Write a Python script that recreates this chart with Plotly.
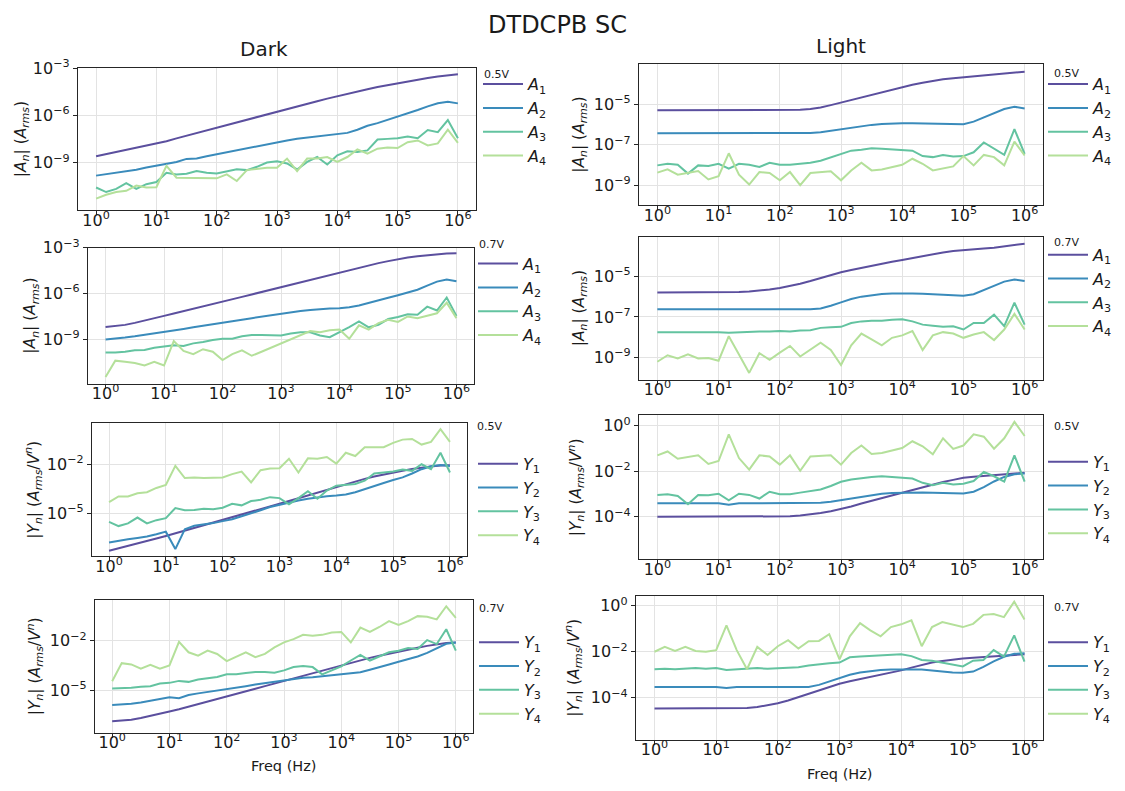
import plotly.graph_objects as go

FONT = "DejaVu Sans"
W, H = 1125, 791

# ---------------- data (values are log10 of the magnitude) ----------------
freq_hz = [1, 1.468, 2.154, 3.162, 4.642, 6.813, 10, 14.68, 21.54, 31.62, 46.42, 68.13,
           100, 146.8, 215.4, 316.2, 464.2, 681.3, 1000, 1468, 2154, 3162, 4642, 6813,
           1e4, 14678, 21544, 31623, 46416, 68129, 1e5, 146780, 215443, 316228, 464159, 681292, 1e6]

dark05_A1 = [-8.58,-8.45,-8.32,-8.19,-8.06,-7.93,-7.80,-7.63,-7.45,-7.28,-7.11,-6.94,-6.77,-6.60,-6.42,-6.25,-6.08,-5.90,-5.73,-5.57,-5.41,-5.25,-5.09,-4.93,-4.77,-4.62,-4.47,-4.33,-4.19,-4.07,-3.95,-3.83,-3.72,-3.62,-3.52,-3.43,-3.38]
dark05_A2 = [-9.81,-9.72,-9.63,-9.55,-9.43,-9.30,-9.17,-9.05,-8.95,-8.75,-8.72,-8.58,-8.45,-8.33,-8.20,-8.06,-7.93,-7.81,-7.70,-7.58,-7.47,-7.40,-7.32,-7.24,-7.20,-7.10,-6.90,-6.65,-6.48,-6.28,-6.08,-5.88,-5.65,-5.42,-5.22,-5.12,-5.23]
dark05_A3 = [-10.56,-10.85,-10.65,-10.29,-10.65,-10.35,-10.22,-9.63,-9.73,-9.69,-9.52,-9.63,-9.67,-9.55,-9.40,-9.46,-9.25,-8.98,-8.90,-9.04,-9.42,-8.94,-8.63,-9.10,-8.52,-8.27,-8.31,-8.21,-7.52,-7.48,-7.44,-7.33,-7.44,-6.92,-7.06,-6.29,-7.44]
dark05_A4 = [-11.27,-11.02,-10.85,-10.77,-10.44,-10.56,-10.54,-9.19,-9.94,-9.94,-9.98,-9.98,-9.98,-9.73,-10.15,-9.46,-9.40,-9.31,-9.31,-8.73,-9.52,-8.73,-8.73,-8.63,-8.94,-8.63,-8.15,-8.42,-8.10,-8.02,-8.06,-7.69,-7.58,-7.90,-7.77,-6.90,-7.73]

light05_A1 = [-5.28]*13 + [-5.27,-5.26,-5.22,-5.15,-5.03,-4.90,-4.77,-4.64,-4.51,-4.38,-4.25,-4.13,-4.02,-3.92,-3.83,-3.75,-3.69,-3.64,-3.60,-3.56,-3.52,-3.47,-3.41,-3.37]
light05_A2 = [-6.42]*15 + [-6.41,-6.37,-6.30,-6.22,-6.14,-6.07,-6.01,-5.97,-5.94,-5.93,-5.93,-5.94,-5.96,-5.99,-6.00,-5.98,-5.85,-5.65,-5.41,-5.22,-5.11,-5.20]
light05_A3 = [-8.02,-7.94,-7.99,-8.43,-8.02,-8.05,-7.94,-8.18,-7.94,-7.99,-8.10,-7.89,-7.99,-7.99,-7.94,-7.89,-7.79,-7.61,-7.45,-7.29,-7.24,-7.17,-7.20,-7.24,-7.25,-7.29,-7.56,-7.61,-7.50,-7.58,-7.56,-7.37,-6.88,-7.20,-7.50,-6.22,-7.45]
light05_A4 = [-8.38,-8.22,-8.48,-8.38,-8.30,-8.72,-8.56,-7.42,-8.48,-8.97,-8.35,-8.40,-8.76,-8.35,-9.00,-8.40,-8.35,-8.31,-8.76,-8.27,-7.89,-8.27,-8.22,-8.10,-7.99,-7.69,-7.94,-8.27,-8.18,-8.07,-7.56,-8.02,-7.50,-7.61,-8.02,-6.84,-7.53]

dark07_A1 = [-8.19,-8.13,-8.05,-7.92,-7.78,-7.62,-7.46,-7.31,-7.16,-7.00,-6.85,-6.70,-6.54,-6.38,-6.22,-6.06,-5.90,-5.73,-5.57,-5.41,-5.25,-5.09,-4.93,-4.77,-4.61,-4.46,-4.31,-4.16,-4.01,-3.88,-3.75,-3.65,-3.56,-3.49,-3.43,-3.38,-3.36]
dark07_A2 = [-9.00,-8.95,-8.88,-8.80,-8.71,-8.62,-8.53,-8.43,-8.32,-8.21,-8.12,-8.02,-7.93,-7.82,-7.72,-7.61,-7.51,-7.41,-7.33,-7.24,-7.15,-7.07,-7.01,-6.98,-6.96,-6.90,-6.78,-6.60,-6.45,-6.28,-6.11,-5.95,-5.75,-5.48,-5.22,-5.08,-5.19]
dark07_A3 = [-9.86,-9.86,-9.81,-9.71,-9.69,-9.54,-9.47,-9.39,-9.43,-9.26,-9.17,-9.04,-8.96,-8.96,-8.79,-8.72,-8.72,-8.74,-8.74,-8.61,-8.53,-8.53,-8.74,-8.85,-8.53,-8.19,-7.82,-8.21,-8.04,-7.67,-7.54,-7.35,-7.39,-6.86,-7.11,-6.26,-7.46]
dark07_A4 = [-11.46,-10.39,-10.46,-10.54,-10.71,-10.46,-10.71,-9.11,-9.75,-9.96,-9.64,-9.81,-10.35,-9.96,-9.71,-10.07,-9.81,-9.54,-9.26,-8.96,-8.70,-8.46,-8.53,-8.40,-8.36,-8.96,-8.08,-8.36,-7.93,-7.71,-7.86,-7.50,-7.61,-7.46,-7.29,-6.60,-7.61]

light07_A1 = [-5.79]*7 + [-5.78,-5.77,-5.75,-5.71,-5.65,-5.57,-5.47,-5.36,-5.23,-5.08,-4.93,-4.80,-4.69,-4.58,-4.47,-4.37,-4.28,-4.19,-4.09,-3.99,-3.90,-3.82,-3.75,-3.70,-3.66,-3.63,-3.59,-3.53,-3.46,-3.39]
light07_A2 = [-6.62]*16 + [-6.58,-6.45,-6.28,-6.12,-6.00,-5.92,-5.87,-5.85,-5.84,-5.85,-5.86,-5.88,-5.91,-5.95,-5.96,-5.88,-5.68,-5.45,-5.26,-5.16,-5.23]
light07_A3 = [-7.75,-7.75,-7.72,-7.72,-7.75,-7.72,-7.75,-7.78,-7.75,-7.75,-7.72,-7.72,-7.70,-7.72,-7.67,-7.66,-7.54,-7.51,-7.49,-7.30,-7.22,-7.19,-7.19,-7.14,-7.11,-7.22,-7.38,-7.43,-7.49,-7.46,-7.62,-7.30,-7.30,-6.89,-7.46,-6.30,-7.38]
light07_A4 = [-9.21,-8.89,-9.05,-8.84,-9.05,-9.03,-9.16,-7.95,-8.85,-9.76,-8.79,-9.11,-8.76,-8.43,-8.95,-8.63,-8.27,-8.63,-9.37,-8.40,-7.82,-8.11,-8.40,-8.03,-7.91,-7.70,-8.63,-7.91,-7.75,-7.82,-8.03,-7.87,-7.75,-8.14,-7.62,-6.85,-7.62]

dark05_Y1 = [-7.26,-7.12,-6.97,-6.82,-6.67,-6.52,-6.36,-6.20,-6.04,-5.88,-5.72,-5.56,-5.40,-5.23,-5.07,-4.90,-4.73,-4.57,-4.40,-4.23,-4.06,-3.88,-3.71,-3.53,-3.36,-3.20,-3.04,-2.89,-2.75,-2.62,-2.50,-2.39,-2.29,-2.20,-2.13,-2.08,-2.06]
dark05_Y2 = [-6.76,-6.64,-6.56,-6.48,-6.40,-6.26,-6.10,-7.16,-5.96,-5.74,-5.68,-5.58,-5.46,-5.34,-5.16,-5.00,-4.80,-4.60,-4.46,-4.36,-4.20,-4.10,-4.00,-3.94,-3.90,-3.84,-3.70,-3.50,-3.30,-3.14,-2.96,-2.80,-2.56,-2.30,-2.12,-2.04,-2.10]
dark05_Y3 = [-5.50,-5.76,-5.60,-5.24,-5.60,-5.40,-5.28,-4.66,-4.80,-4.78,-4.70,-4.74,-4.64,-4.40,-4.50,-4.24,-4.16,-4.00,-4.06,-4.44,-4.06,-3.64,-4.10,-3.60,-3.30,-3.26,-3.20,-3.00,-2.56,-2.50,-2.44,-2.32,-2.40,-2.00,-2.30,-1.30,-2.50]
dark05_Y4 = [-4.30,-3.96,-3.96,-3.76,-3.70,-3.44,-3.26,-2.10,-2.84,-2.80,-2.84,-2.84,-2.80,-2.60,-2.44,-3.10,-2.36,-2.26,-2.24,-1.66,-2.50,-1.64,-1.66,-1.56,-1.96,-1.30,-1.50,-0.96,-0.96,-0.96,-0.70,-0.50,-0.46,-0.80,-0.64,0.14,-0.64]

light05_Y1 = [-4.00]*12 + [-3.99,-3.98,-3.95,-3.91,-3.84,-3.76,-3.67,-3.55,-3.42,-3.30,-3.17,-3.05,-2.94,-2.81,-2.69,-2.58,-2.47,-2.38,-2.29,-2.24,-2.20,-2.17,-2.13,-2.09,-2.07]
light05_Y2 = [-3.41]*7 + [-3.47] + [-3.41]*8 + [-3.39,-3.34,-3.27,-3.19,-3.11,-3.04,-2.99,-2.96,-2.94,-2.93,-2.93,-2.94,-2.96,-2.98,-2.98,-2.90,-2.70,-2.45,-2.25,-2.13,-2.10]
light05_Y3 = [-3.04,-3.01,-3.09,-3.45,-3.04,-3.06,-2.99,-3.28,-2.99,-3.04,-3.20,-2.90,-3.01,-3.01,-2.94,-2.87,-2.80,-2.65,-2.46,-2.36,-2.29,-2.25,-2.22,-2.25,-2.26,-2.32,-2.51,-2.61,-2.51,-2.58,-2.55,-2.43,-2.03,-2.22,-2.46,-1.30,-2.46]
light05_Y4 = [-1.30,-1.13,-1.45,-1.39,-1.30,-1.68,-1.55,-0.38,-1.42,-1.93,-1.30,-1.35,-1.71,-1.30,-1.98,-1.35,-1.32,-1.30,-1.71,-1.20,-0.87,-1.24,-1.20,-1.10,-0.98,-0.68,-0.90,-1.25,-0.55,-1.02,-0.87,-0.38,-0.48,-1.01,-0.55,0.17,-0.45]

dark07_Y1 = [-6.90,-6.86,-6.80,-6.70,-6.58,-6.44,-6.30,-6.16,-6.01,-5.86,-5.71,-5.56,-5.40,-5.24,-5.08,-4.92,-4.76,-4.60,-4.44,-4.29,-4.14,-3.99,-3.84,-3.67,-3.50,-3.35,-3.19,-3.04,-2.91,-2.78,-2.66,-2.54,-2.42,-2.31,-2.21,-2.13,-2.10]
dark07_Y2 = [-5.90,-5.88,-5.83,-5.76,-5.66,-5.56,-5.44,-5.50,-5.30,-5.20,-5.12,-5.04,-4.96,-4.86,-4.76,-4.66,-4.58,-4.50,-4.44,-4.36,-4.25,-4.22,-4.16,-4.10,-4.06,-4.02,-3.92,-3.76,-3.62,-3.44,-3.28,-3.12,-2.96,-2.74,-2.46,-2.18,-2.10]
dark07_Y3 = [-4.90,-4.90,-4.86,-4.80,-4.76,-4.60,-4.56,-4.44,-4.50,-4.36,-4.30,-4.20,-4.04,-4.04,-3.96,-3.90,-3.90,-3.94,-3.80,-3.60,-3.54,-3.60,-4.04,-3.80,-3.56,-3.20,-2.86,-3.20,-2.96,-2.70,-2.60,-2.44,-2.50,-1.96,-2.20,-1.30,-2.60]
dark07_Y4 = [-4.46,-3.36,-3.44,-3.70,-3.46,-3.70,-3.50,-2.06,-2.70,-2.90,-2.60,-2.80,-3.24,-2.96,-2.70,-3.00,-2.80,-2.40,-2.10,-1.90,-1.64,-1.70,-1.64,-1.50,-1.46,-2.10,-1.20,-1.46,-1.16,-0.80,-1.04,-0.80,-0.50,-0.54,-0.70,0.10,-0.60]

light07_Y1 = [-4.47]*8 + [-4.46,-4.44,-4.40,-4.33,-4.24,-4.12,-3.97,-3.81,-3.66,-3.52,-3.39,-3.28,-3.19,-3.10,-3.00,-2.91,-2.81,-2.69,-2.57,-2.47,-2.40,-2.34,-2.29,-2.26,-2.23,-2.21,-2.17,-2.13,-2.11]
light07_Y2 = [-3.53]*7 + [-3.57] + [-3.53]*8 + [-3.44,-3.30,-3.14,-3.00,-2.90,-2.83,-2.79,-2.77,-2.76,-2.76,-2.77,-2.81,-2.86,-2.90,-2.91,-2.86,-2.66,-2.42,-2.22,-2.09,-2.07]
light07_Y3 = [-2.76,-2.74,-2.76,-2.73,-2.71,-2.74,-2.71,-2.79,-2.76,-2.76,-2.71,-2.74,-2.71,-2.70,-2.67,-2.60,-2.54,-2.50,-2.47,-2.24,-2.21,-2.19,-2.16,-2.14,-2.11,-2.19,-2.36,-2.39,-2.47,-2.53,-2.64,-2.39,-2.36,-1.93,-2.21,-1.29,-2.43]
light07_Y4 = [-2.00,-1.79,-1.97,-1.79,-1.97,-2.00,-1.93,-0.86,-1.93,-2.76,-1.79,-2.14,-1.76,-1.50,-1.86,-1.54,-1.53,-1.24,-2.33,-1.33,-0.76,-1.07,-1.33,-0.93,-0.81,-0.64,-1.76,-0.93,-0.71,-0.81,-0.93,-0.79,-0.40,-0.36,-0.50,0.17,-0.60]

x_tickvals = [1, 10, 100, 1e3, 1e4, 1e5, 1e6]
x_ticktext = ["10<sup>0</sup>", "10<sup>1</sup>", "10<sup>2</sup>", "10<sup>3</sup>",
              "10<sup>4</sup>", "10<sup>5</sup>", "10<sup>6</sup>"]

# ---------------- styling / layout ----------------
COLORS = ["#5b4f9e", "#3a8bbb", "#63c3a0", "#b4e09a"]
TXT = "#1a1a1a"

def sup_label(p):
    return "10<sup>" + ("\u2212" if p < 0 else "") + str(abs(p)) + "</sup>"

ylab_A = "|<i>A<sub>n</sub></i>| (<i>A<sub>rms</sub></i>)"
ylab_Y = "|<i>Y<sub>n</sub></i>| (<i>A<sub>rms</sub></i>/<i>V<sup>n</sup></i>)"

panels = [
    dict(s=[dark05_A1, dark05_A2, dark05_A3, dark05_A4], sym="A", v="0.5V", box=(78, 476, 58, 202), yr=(-12.0, -3.0), yt=[-3, -6, -9], yl=ylab_A, ylx=22, lx=483, ly=85, vx=496, vy=64, fy=None),
    dict(s=[light05_A1, light05_A2, light05_A3, light05_A4], sym="A", v="0.5V", box=(639, 1043, 54, 197), yr=(-10.0, -3.0), yt=[-5, -7, -9], yl=ylab_A, ylx=580, lx=1048, ly=85, vx=1066, vy=63, fy=None),
    dict(s=[dark07_A1, dark07_A2, dark07_A3, dark07_A4], sym="A", v="0.7V", box=(88, 474, 240, 378), yr=(-11.9, -3.0), yt=[-3, -6, -9], yl=ylab_A, ylx=31, lx=478, ly=267, vx=491, vy=237, fy=None),
    dict(s=[light07_A1, light07_A2, light07_A3, light07_A4], sym="A", v="0.7V", box=(639, 1043, 229, 374), yr=(-10.1, -3.05), yt=[-5, -7, -9], yl=ylab_A, ylx=580, lx=1048, ly=258, vx=1066, vy=235, fy=None),
    dict(s=[dark05_Y1, dark05_Y2, dark05_Y3, dark05_Y4], sym="Y", v="0.5V", box=(92, 467, 418, 553), yr=(-7.6, 0.5), yt=[-2, -5], yl=ylab_Y, ylx=34, lx=478, ly=470, vx=490, vy=421, fy=None),
    dict(s=[light05_Y1, light05_Y2, light05_Y3, light05_Y4], sym="Y", v="0.5V", box=(639, 1043, 410, 556), yr=(-5.87, 0.46), yt=[0, -2, -4], yl=ylab_Y, ylx=576, lx=1048, ly=468, vx=1066, vy=421, fy=None),
    dict(s=[dark07_Y1, dark07_Y2, dark07_Y3, dark07_Y4], sym="Y", v="0.7V", box=(95, 473, 597, 732), yr=(-7.6, 0.5), yt=[-2, -5], yl=ylab_Y, ylx=35, lx=479, ly=651, vx=491, vy=606, fy=766),
    dict(s=[light07_Y1, light07_Y2, light07_Y3, light07_Y4], sym="Y", v="0.7V", box=(636, 1043, 593, 739), yr=(-5.82, 0.43), yt=[0, -2, -4], yl=ylab_Y, ylx=574, lx=1048, ly=651, vx=1066, vy=605, fy=774),
]

LEG_FONT = 16
LEG_TOP_OFFSET = 28  # distance from legend top to first item centre

fig = go.Figure()
layout = dict(
    width=W, height=H, autosize=False,
    margin=dict(l=0, r=0, t=0, b=0),
    paper_bgcolor="white", plot_bgcolor="white",
    font=dict(family=FONT, size=14, color=TXT),
    showlegend=True,
)
annotations = []

for i, p in enumerate(panels):
    n = i + 1
    xa = "x" if n == 1 else f"x{n}"
    ya = "y" if n == 1 else f"y{n}"
    lg = "legend" if n == 1 else f"legend{n}"
    for j, vals in enumerate(p["s"]):
        fig.add_trace(go.Scatter(
            x=freq_hz, y=[10 ** v for v in vals], mode="lines",
            line=dict(color=COLORS[j], width=2),
            name=f"<i>{p['sym']}</i><sub>{j + 1}</sub>",
            xaxis=xa, yaxis=ya, legend=lg, hoverinfo="skip",
        ))
    l, r, t, b = p["box"]
    common = dict(
        ticks="outside", ticklen=4, tickwidth=1, tickcolor="#262626",
        tickfont=dict(size=16, family=FONT, color=TXT),
        showline=True, linecolor="#262626", linewidth=1.3, mirror=True,
        showgrid=True, gridcolor="#e3e3e3", gridwidth=1, zeroline=False,
    )
    layout["xaxis" if n == 1 else f"xaxis{n}"] = dict(
        domain=[l / W, r / W], anchor=ya, type="log", range=[-0.3, 6.3],
        tickmode="array", tickvals=x_tickvals, ticktext=x_ticktext,
        ticklabelstandoff=-9, **common,
    )
    layout["yaxis" if n == 1 else f"yaxis{n}"] = dict(
        domain=[1 - b / H, 1 - t / H], anchor=xa, type="log", range=list(p["yr"]),
        tickmode="array", tickvals=[10.0 ** e for e in p["yt"]],
        ticktext=[sup_label(e) for e in p["yt"]], **common,
    )
    layout[lg] = dict(
        x=(p["lx"] - 5) / W, y=1 - (p["ly"] - LEG_TOP_OFFSET) / H,
        xanchor="left", yanchor="top", bgcolor="rgba(0,0,0,0)", borderwidth=0,
        font=dict(size=LEG_FONT, family=FONT, color=TXT), itemwidth=40,
    )
    annotations.append(dict(
        text=p["yl"], x=p["ylx"] / W, y=1 - (t + b) / 2 / H, xref="paper", yref="paper",
        showarrow=False, textangle=-90, xanchor="center", yanchor="middle",
        font=dict(size=15.5, family=FONT, color=TXT),
    ))
    annotations.append(dict(
        text=p["v"], x=p["vx"] / W, y=1 - p["vy"] / H, xref="paper", yref="paper",
        showarrow=False, xanchor="center", yanchor="middle",
        font=dict(size=11, family=FONT, color=TXT),
    ))
    if p["fy"] is not None:
        annotations.append(dict(
            text="Freq (Hz)", x=(l + r) / 2 / W, y=1 - p["fy"] / H, xref="paper", yref="paper",
            showarrow=False, xanchor="center", yanchor="middle",
            font=dict(size=14.5, family=FONT, color=TXT),
        ))

annotations += [
    dict(text="DTDCPB SC", x=557 / W, y=1 - 14 / H, xref="paper", yref="paper", showarrow=False,
         xanchor="center", yanchor="middle", font=dict(size=24, family=FONT, color=TXT)),
    dict(text="Dark", x=264 / W, y=1 - 39 / H, xref="paper", yref="paper", showarrow=False,
         xanchor="center", yanchor="middle", font=dict(size=20, family=FONT, color=TXT)),
    dict(text="Light", x=841 / W, y=1 - 35 / H, xref="paper", yref="paper", showarrow=False,
         xanchor="center", yanchor="middle", font=dict(size=20, family=FONT, color=TXT)),
]
layout["annotations"] = annotations
fig.update_layout(**layout)
fig.write_html("out.html")
